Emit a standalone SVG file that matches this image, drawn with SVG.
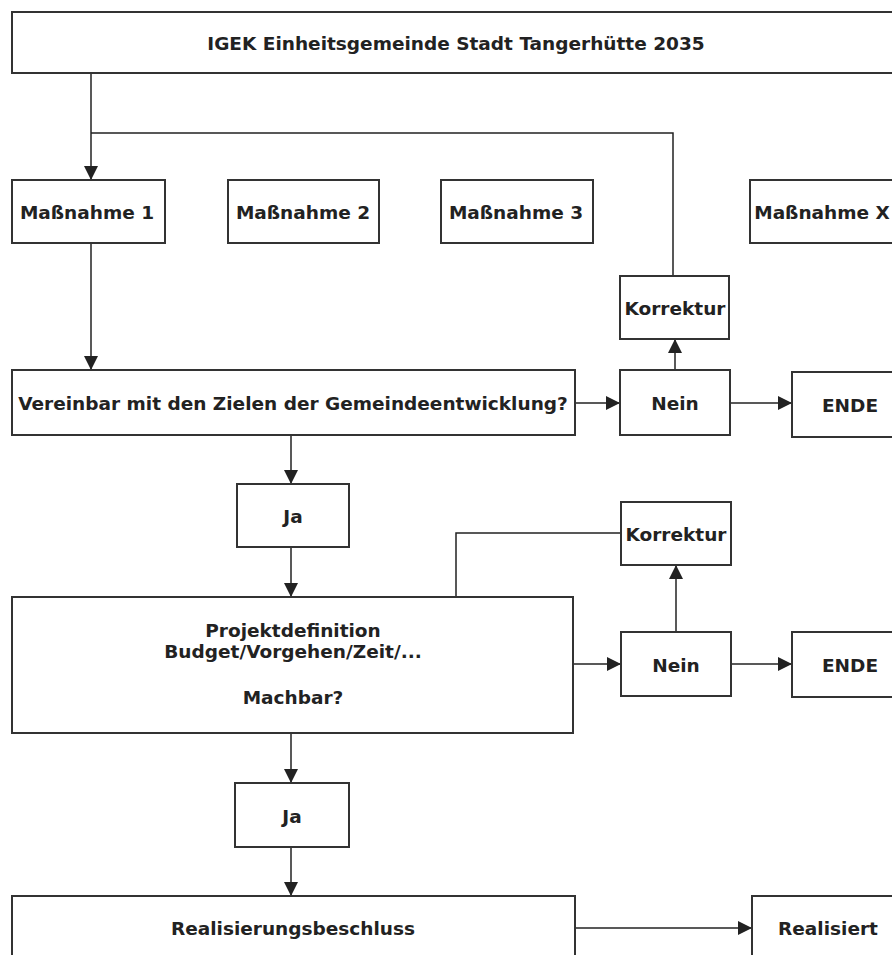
<svg xmlns="http://www.w3.org/2000/svg" width="892" height="955" viewBox="0 0 892 955">
<style>
.box{fill:#fff;stroke:#333;stroke-width:2}
.t{font-family:"DejaVu Sans",Verdana,sans-serif;font-weight:bold;font-size:18.5px;fill:#222;text-anchor:middle;dominant-baseline:central}
.c{fill:none;stroke:#222;stroke-width:1.5}
</style>
<defs>
<marker id="a" viewBox="0 0 14 14" refX="14" refY="7" markerWidth="14" markerHeight="14" markerUnits="userSpaceOnUse" orient="auto">
<path d="M0,0 L14,7 L0,14 z" fill="#222"/>
</marker>
</defs>
<rect width="892" height="955" fill="#fff"/>
<g id="connectors">
<path class="c" d="M91,73 V180" marker-end="url(#a)"/>
<path class="c" d="M91,133 H673 V276"/>
<path class="c" d="M91,243 V370" marker-end="url(#a)"/>
<path class="c" d="M575,403 H620" marker-end="url(#a)"/>
<path class="c" d="M730,403 H792" marker-end="url(#a)"/>
<path class="c" d="M675,370 V339" marker-end="url(#a)"/>
<path class="c" d="M291,435 V484" marker-end="url(#a)"/>
<path class="c" d="M291,547 V597" marker-end="url(#a)"/>
<path class="c" d="M456,597 V533 H621"/>
<path class="c" d="M676,632 V565" marker-end="url(#a)"/>
<path class="c" d="M573,664 H621" marker-end="url(#a)"/>
<path class="c" d="M731,664 H792" marker-end="url(#a)"/>
<path class="c" d="M291,733 V783" marker-end="url(#a)"/>
<path class="c" d="M291,847 V896" marker-end="url(#a)"/>
<path class="c" d="M575,928 H752" marker-end="url(#a)"/>
</g>
<g id="igek"><rect class="box" x="12" y="12" width="890" height="61"/><text class="t" x="456" y="43">IGEK Einheitsgemeinde Stadt Tangerhütte 2035</text></g>
<g id="m1"><rect class="box" x="12" y="180" width="153" height="63"/><text class="t" x="87" y="212">Maßnahme 1</text></g>
<g id="m2"><rect class="box" x="228" y="180" width="151" height="63"/><text class="t" x="303" y="212">Maßnahme 2</text></g>
<g id="m3"><rect class="box" x="441" y="180" width="152" height="63"/><text class="t" x="516" y="212">Maßnahme 3</text></g>
<g id="mx"><rect class="box" x="750" y="180" width="160" height="63"/><text class="t" x="822" y="212">Maßnahme X</text></g>
<g id="korr1"><rect class="box" x="620" y="276" width="109" height="63"/><text class="t" x="675" y="308">Korrektur</text></g>
<g id="vereinbar"><rect class="box" x="12" y="370" width="563" height="65"/><text class="t" x="293" y="403">Vereinbar mit den Zielen der Gemeindeentwicklung?</text></g>
<g id="nein1"><rect class="box" x="620" y="370" width="110" height="65"/><text class="t" x="675" y="403">Nein</text></g>
<g id="ende1"><rect class="box" x="792" y="372" width="110" height="65"/><text class="t" x="850" y="405">ENDE</text></g>
<g id="ja1"><rect class="box" x="237" y="484" width="112" height="63"/><text class="t" x="293" y="516">Ja</text></g>
<g id="korr2"><rect class="box" x="621" y="502" width="110" height="63"/><text class="t" x="676" y="534">Korrektur</text></g>
<g id="projekt"><rect class="box" x="12" y="597" width="561" height="136"/><text class="t" x="293" y="630">Projektdefinition</text><text class="t" x="293" y="651">Budget/Vorgehen/Zeit/...</text><text class="t" x="293" y="697">Machbar?</text></g>
<g id="nein2"><rect class="box" x="621" y="632" width="110" height="64"/><text class="t" x="676" y="665">Nein</text></g>
<g id="ende2"><rect class="box" x="792" y="632" width="110" height="65"/><text class="t" x="850" y="665">ENDE</text></g>
<g id="ja2"><rect class="box" x="235" y="783" width="114" height="64"/><text class="t" x="292" y="816">Ja</text></g>
<g id="beschluss"><rect class="box" x="12" y="896" width="563" height="70"/><text class="t" x="293" y="928">Realisierungsbeschluss</text></g>
<g id="realisiert"><rect class="box" x="752" y="896" width="150" height="70"/><text class="t" x="828" y="928">Realisiert</text></g>
</svg>
